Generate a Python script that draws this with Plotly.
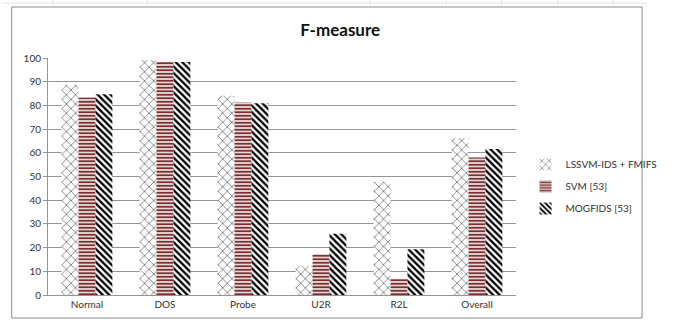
import plotly.graph_objects as go

categories = ["Normal", "DOS", "Probe", "U2R", "R2L", "Overall"]
lssvm = [88.6, 99.2, 84.1, 12.3, 47.8, 66.2]
svm = [83.3, 98.4, 81.2, 17.2, 6.8, 58.0]
mogfids = [84.7, 98.3, 80.9, 25.8, 19.3, 61.6]
series_names = ["LSSVM-IDS + FMIFS", "SVM [53]", "MOGFIDS [53]"]
y_ticks = [0, 10, 20, 30, 40, 50, 60, 70, 80, 90, 100]

W, H = 675, 324
L, R, T, B = 48, 137, 58, 29
PW, PH = W - L - R, H - T - B

def px_x(p):
    return (p - L) / PW

def px_y(p):
    return (H - B - p) / PH

FONT = "Lato, 'Open Sans', sans-serif"

fig = go.Figure()
styles = [
    dict(shape="x", fgcolor="#808080", bgcolor="white", size=6.5, solidity=0.25, fgopacity=1),
    dict(shape="-", fgcolor="#7a2e2e", bgcolor="white", size=3.5, solidity=0.6, fgopacity=1),
    dict(shape="\\", fgcolor="#000000", bgcolor="white", size=4.6, solidity=0.5, fgopacity=1),
]
for i, (name, vals, st) in enumerate(zip(series_names, [lssvm, svm, mogfids], styles)):
    fig.add_trace(go.Bar(
        x=categories, y=vals, name=name, legendgroup=f"g{i}",
        marker=dict(color="white", line=dict(width=0), pattern=st),
    ))

# spreadsheet cell lines above the chart and outer chart border
shapes = [dict(type="rect", xref="paper", yref="paper",
               x0=px_x(10), x1=px_x(670), y0=px_y(318), y1=px_y(7),
               line=dict(color="#8c8c8c", width=1), layer="below")]
shapes.append(dict(type="line", xref="paper", yref="paper",
                   x0=px_x(0), x1=px_x(675), y0=px_y(3), y1=px_y(3),
                   line=dict(color="#e4e4e4", width=1)))
for vx in [53, 152, 385, 465, 523, 582, 640]:
    shapes.append(dict(type="line", xref="paper", yref="paper",
                       x0=px_x(vx), x1=px_x(vx), y0=px_y(0), y1=px_y(7),
                       line=dict(color="#e4e4e4", width=1)))

fig.update_layout(
    width=W, height=H, autosize=False,
    margin=dict(l=L, r=R, t=T, b=B),
    paper_bgcolor="white", plot_bgcolor="white",
    barmode="group", bargap=0.35, bargroupgap=0,
    title=dict(text="<b>F-measure</b>", x=0.504, xref="container", xanchor="center",
               y=1 - 30 / H, yref="container", yanchor="middle",
               font=dict(family=FONT, size=17, color="#111111")),
    font=dict(family=FONT, size=10, color="#333333"),
    showlegend=True,
    legend=dict(x=px_x(548), y=px_y(150), xanchor="left", yanchor="top",
                font=dict(family=FONT, size=10, color="#333333"),
                itemwidth=30, tracegroupgap=3, bgcolor="rgba(0,0,0,0)"),
    shapes=shapes,
)
fig.update_yaxes(range=[0, 100], tickvals=y_ticks, showgrid=True,
                 gridcolor="#949494", gridwidth=1, showline=True,
                 linecolor="#949494", linewidth=1, ticks="outside", ticklen=4,
                 tickcolor="#949494", zeroline=False, fixedrange=True,
                 tickfont=dict(size=10, color="#333333"))
fig.update_xaxes(showline=True, linecolor="#949494", linewidth=1,
                 ticks="", showgrid=False, tickfont=dict(size=10, color="#333333"))

fig.write_html("out.html")
